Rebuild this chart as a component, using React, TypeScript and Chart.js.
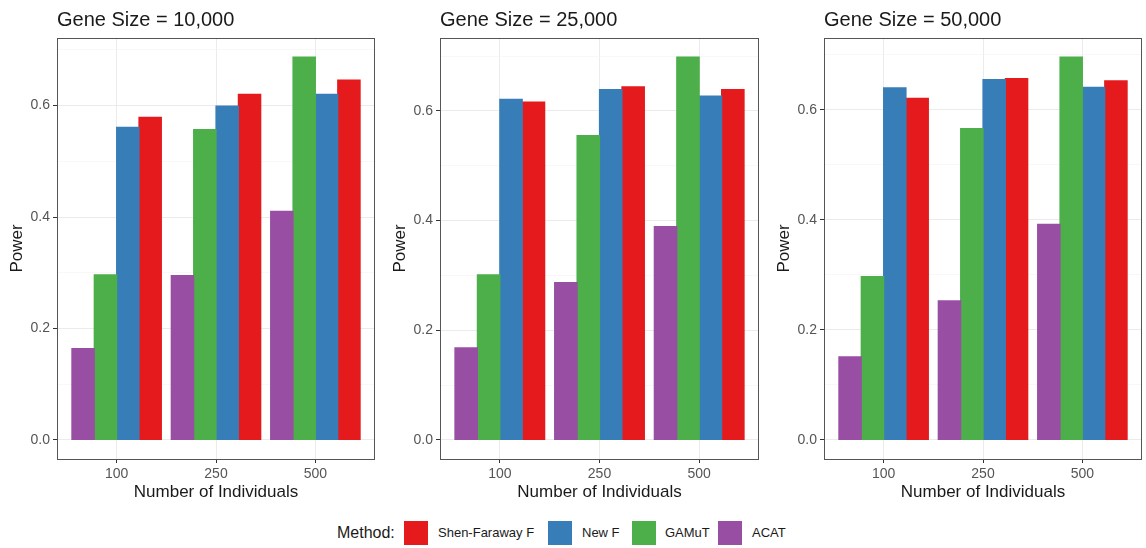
import React, { useEffect, useRef } from "react";
import { Chart, registerables } from "chart.js";

Chart.register(...registerables);

const FONT = '"Liberation Sans", Arial, Helvetica, sans-serif';

// Sample sizes on the x axis
const individuals = ["100", "250", "500"];
// Methods in drawing (dodge) order, left to right inside each group
const methods = ["ACAT", "GAMuT", "New F", "Shen-Faraway F"];
const methodColors = ["#984EA3", "#4DAF4A", "#377EB8", "#E41A1C"];
// Legend order
const legendMethods = ["Shen-Faraway F", "New F", "GAMuT", "ACAT"];
const legendColors = ["#E41A1C", "#377EB8", "#4DAF4A", "#984EA3"];

const geneSizes = ["10,000", "25,000", "50,000"];

// Power, gene size = 10,000
const acat10k = [0.164, 0.295, 0.41];
const gamut10k = [0.296, 0.557, 0.687];
const newF10k = [0.561, 0.599, 0.62];
const shenF10k = [0.579, 0.62, 0.646];

// Power, gene size = 25,000
const acat25k = [0.168, 0.287, 0.389];
const gamut25k = [0.301, 0.555, 0.698];
const newF25k = [0.621, 0.639, 0.627];
const shenF25k = [0.616, 0.644, 0.639];

// Power, gene size = 50,000
const acat50k = [0.151, 0.253, 0.392];
const gamut50k = [0.297, 0.566, 0.696];
const newF50k = [0.64, 0.655, 0.641];
const shenF50k = [0.621, 0.657, 0.653];

// Y gridlines: major every 0.2 (labelled), minor in between
const yGridValues = [0, 0.1, 0.2, 0.3, 0.4, 0.5, 0.6, 0.7];

const isMajor = (v: number) => Math.abs(v * 5 - Math.round(v * 5)) < 1e-6;

type PanelProps = {
  title: string;
  series: number[][];
  left: number;
  width: number;
  padLeft: number;
};

const PANEL_HEIGHT = 504;

function Panel({ title, series, left, width, padLeft }: PanelProps) {
  const ref = useRef<HTMLCanvasElement | null>(null);

  useEffect(() => {
    if (!ref.current) return;
    const maxVal = Math.max(...series.flat());

    const framePlugin = {
      id: "frame",
      afterDraw(chart: any) {
        const { ctx, chartArea } = chart;
        ctx.save();
        // panel border
        ctx.strokeStyle = "#555555";
        ctx.lineWidth = 1;
        ctx.strokeRect(
          Math.round(chartArea.left) + 0.5,
          Math.round(chartArea.top) + 0.5,
          Math.round(chartArea.right - chartArea.left) - 1,
          Math.round(chartArea.bottom - chartArea.top)
        );
        // panel title
        ctx.fillStyle = "#1a1a1a";
        ctx.font = `20px ${FONT}`;
        ctx.textAlign = "left";
        ctx.textBaseline = "alphabetic";
        ctx.fillText(title, chartArea.left, 26);
        ctx.restore();
      },
    };

    const chart = new Chart(ref.current, {
      type: "bar",
      data: {
        datasets: methods.map((m, i) => ({
          label: m,
          data: series[i].map((v, j) => ({ x: j + 1, y: v })),
          backgroundColor: methodColors[i],
          borderWidth: 0,
          categoryPercentage: 0.9,
          barPercentage: 1,
          inflateAmount: 0.6,
        })),
      },
      options: {
        animation: false,
        responsive: false,
        maintainAspectRatio: false,
        devicePixelRatio: 1,
        layout: { padding: { top: 38, right: 3, bottom: 0, left: padLeft } },
        plugins: {
          legend: { display: false },
          tooltip: { enabled: false },
          title: { display: false },
        },
        scales: {
          x: {
            type: "linear",
            offset: false,
            min: 0.4,
            max: 3.6,
            afterBuildTicks: (s: any) => {
              s.ticks = individuals.map((_, i) => ({ value: i + 1 }));
            },
            afterFit: (s: any) => {
              s.height = 45;
            },
            ticks: {
              autoSkip: false,
              maxRotation: 0,
              padding: 3,
              color: "#555555",
              font: { family: FONT, size: 14 },
              callback: (v: any) => individuals[Math.round(v) - 1] ?? "",
            },
            grid: {
              offset: false,
              color: "#EBEBEB",
              lineWidth: 1,
              tickColor: "#333333",
              tickLength: 4,
            },
            border: { display: false },
            title: {
              display: true,
              text: "Number of Individuals",
              color: "#1a1a1a",
              font: { family: FONT, size: 17 },
              padding: { top: 0, bottom: 1 },
            },
          },
          y: {
            min: -0.05 * maxVal,
            max: 1.05 * maxVal,
            afterBuildTicks: (s: any) => {
              s.ticks = yGridValues.map((v) => ({ value: v }));
            },
            afterFit: (s: any) => {
              s.width = 57;
            },
            ticks: {
              padding: 3,
              color: "#555555",
              font: { family: FONT, size: 14 },
              callback: (v: any) => (isMajor(v) ? Number(v).toFixed(1) : ""),
            },
            grid: {
              color: (c: any) => (isMajor(c.tick.value) ? "#EBEBEB" : "#F4F4F4"),
              lineWidth: (c: any) => (isMajor(c.tick.value) ? 1 : 0.6),
              tickColor: (c: any) =>
                isMajor(c.tick.value) ? "#333333" : "rgba(0,0,0,0)",
              tickLength: 4,
            },
            border: { display: false },
            title: {
              display: true,
              text: "Power",
              color: "#1a1a1a",
              font: { family: FONT, size: 17 },
              padding: { top: 7, bottom: 0 },
            },
          },
        },
      },
      plugins: [framePlugin],
    } as any);

    return () => chart.destroy();
  }, [title, series, padLeft]);

  return (
    <canvas
      ref={ref}
      width={width}
      height={PANEL_HEIGHT}
      style={{ position: "absolute", left, top: 0, width, height: PANEL_HEIGHT }}
    />
  );
}

// Legend layout (x positions of keys and labels)
const legendKeyX = [404, 548, 632, 718];
const legendLabelX = [438, 582, 665, 752];

export default function App() {
  const panels = [
    { series: [acat10k, gamut10k, newF10k, shenF10k], left: 0, width: 378, padLeft: 0 },
    { series: [acat25k, gamut25k, newF25k, shenF25k], left: 380, width: 382, padLeft: 3 },
    { series: [acat50k, gamut50k, newF50k, shenF50k], left: 762, width: 383, padLeft: 5 },
  ];

  return (
    <div
      style={{
        position: "fixed",
        left: 0,
        top: 0,
        width: 1146,
        height: 548,
        background: "#ffffff",
        fontFamily: FONT,
        overflow: "hidden",
      }}
    >
      {panels.map((p, i) => (
        <Panel
          key={i}
          title={`Gene Size = ${geneSizes[i]}`}
          series={p.series}
          left={p.left}
          width={p.width}
          padLeft={p.padLeft}
        />
      ))}
      <div
        style={{
          position: "absolute",
          left: 337,
          top: 522,
          fontSize: 16,
          color: "#1a1a1a",
          lineHeight: "22px",
        }}
      >
        Method:
      </div>
      {legendMethods.map((m, i) => (
        <React.Fragment key={m}>
          <div
            style={{
              position: "absolute",
              left: legendKeyX[i],
              top: 521,
              width: 24,
              height: 24,
              background: legendColors[i],
            }}
          />
          <div
            style={{
              position: "absolute",
              left: legendLabelX[i],
              top: 524,
              fontSize: 13,
              color: "#1a1a1a",
              lineHeight: "18px",
              whiteSpace: "nowrap",
            }}
          >
            {m}
          </div>
        </React.Fragment>
      ))}
    </div>
  );
}
